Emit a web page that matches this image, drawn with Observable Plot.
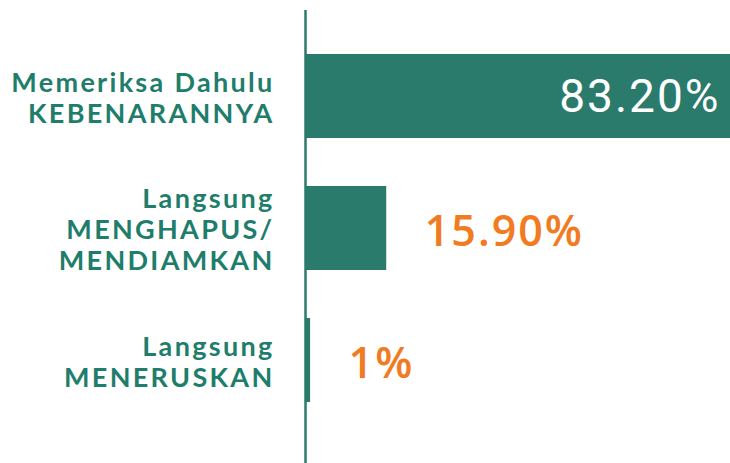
<!DOCTYPE html>
<html>
<head>
<meta charset="utf-8">
<script src="https://cdn.jsdelivr.net/npm/d3@7"></script>
<script src="https://cdn.jsdelivr.net/npm/@observablehq/plot@0.6"></script>
<style>
  html, body { margin: 0; padding: 0; background: #ffffff; }
  #chart svg { display: block; }
</style>
</head>
<body>
<div id="chart"></div>
<script>
const categories = [
  "Memeriksa Dahulu\nKEBENARANNYA",
  "Langsung\nMENGHAPUS/\nMENDIAMKAN",
  "Langsung\nMENERUSKAN"
];
const values = [83.2, 15.9, 1];
const valueLabels = ["83.20%", "15.90%", "1%"];

const data = categories.map((c, i) => ({cat: c, value: values[i], label: valueLabels[i]}));
const inside = data.filter(d => d.value > 50);
const outside = data.filter(d => d.value <= 50);

const teal = "#2b7b6c";
const tealText = "#1f7d6c";
const orange = "#f27a20";

const chart = Plot.plot({
  width: 730,
  height: 463,
  marginLeft: 305,
  marginRight: 0,
  marginTop: 10,
  marginBottom: 0,
  style: {background: "#ffffff", overflow: "visible"},
  x: {domain: [0, 83.2], range: [305, 730], axis: null},
  y: {domain: categories, range: [53, 402], paddingInner: 0.364, paddingOuter: 0, axis: null},
  marks: [
    Plot.barX(data, {x: "value", y: "cat", fill: teal}),
    Plot.ruleX([0], {stroke: teal, strokeWidth: 2.5}),
    Plot.text(data, {
      x: 0, y: "cat", text: "cat",
      textAnchor: "end", dx: -31, dy: 1,
      lineHeight: 1.15,
      fill: tealText,
      fontSize: 27,
      fontWeight: 700,
      fontFamily: "Lato, 'DejaVu Sans', sans-serif"
    }),
    Plot.text(inside, {
      x: "value", y: "cat", text: "label",
      textAnchor: "end", dx: -10, dy: 1,
      fill: "#ffffff",
      fontSize: 46,
      fontFamily: "Roboto, 'Open Sans', sans-serif"
    }),
    Plot.text(outside, {
      x: "value", y: "cat", text: "label",
      textAnchor: "start", dx: 38, dy: 4,
      fill: orange,
      fontSize: 43,
      fontWeight: 600,
      fontFamily: "'Open Sans', Roboto, sans-serif"
    })
  ]
});
const spacings = ["2.3px", "2px", "2px"];
d3.select(chart).selectAll('g[aria-label="text"]').each(function(_, i) {
  d3.select(this).style("letter-spacing", spacings[i]);
});
document.getElementById("chart").appendChild(chart);
</script>
</body>
</html>
